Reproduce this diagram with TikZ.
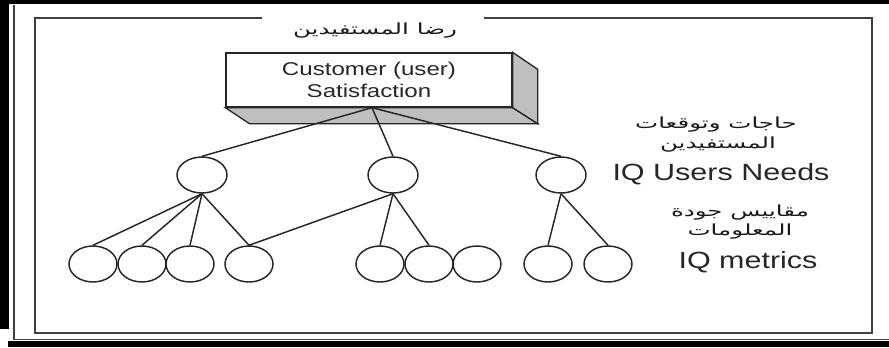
\documentclass[tikz,border=0pt]{standalone}
\usepackage{fontspec}
\setmainfont[FakeStretch=1.3]{Liberation Sans}
\newfontfamily\arabicfont[Script=Arabic,FakeStretch=1.6]{DejaVu Sans}
\TeXXeTstate=1
\usetikzlibrary{shapes.geometric,calc}
\begin{document}
\begin{tikzpicture}[x=0.75pt,y=-0.75pt,
  ln/.style={draw=black!85,line width=1.1pt},
  frameline/.style={draw=black!75,line width=1.3pt},
  topcirc/.style={ellipse,draw=black!85,line width=1.1pt,fill=white,minimum width=37.5pt,minimum height=27pt,inner sep=0pt},
  leafcirc/.style={ellipse,draw=black!85,line width=1.1pt,fill=white,minimum width=36pt,minimum height=27pt,inner sep=0pt},
  entext/.style={font=\fontsize{17.6pt}{20pt}\selectfont,text=black!85,inner sep=0pt},
  artext/.style={font=\arabicfont\fontsize{11.5pt}{13pt}\selectfont,text=black!90,inner sep=0pt},
  face/.style={draw=black!85,line width=1pt,fill=black!25}
]
\useasboundingbox (0,0) rectangle (889,347);
% outer frame
\fill[black] (0,0) rectangle (889,4);
\fill[black] (0,0) rectangle (9,329);
\fill[black] (8,341) rectangle (889,347);
\draw[frameline] (14,4.5) -- (14,339.5) -- (889,339.5);
% inner frame with title gap
\draw[frameline] (262,18) -- (35,18) -- (35,333) -- (872,333) -- (872,18) -- (484,18);
\node[artext] (title) at (375,31) {\beginR رضا المستفيدين\endR};
% 3D box
\node[draw=black!85,line width=1pt,fill=white,minimum width=214.5pt,minimum height=40.5pt,inner sep=0pt,
  align=center,font=\fontsize{13.9pt}{17pt}\selectfont,text=black!85] (box) at (369,80)
  {Customer (user)\\[-1pt]Satisfaction};
\draw[face] (box.south west) -- (box.south east) -- ($(box.south east)+(25,16)$) -- ($(box.south west)+(24,16)$) -- cycle;
\draw[face] (box.north east) -- ($(box.north east)+(25,17)$) -- ($(box.south east)+(25,16)$) -- (box.south east) -- cycle;
\coordinate (apex) at ($(box.south)+(3,0)$);
% level 1
\node[topcirc] (p1) at (202,175) {};
\node[topcirc] (p2) at (393,175) {};
\node[topcirc] (p3) at (561,175) {};
% level 2
\node[leafcirc] (c1) at (93,264) {};
\node[leafcirc] (c2) at (142,264) {};
\node[leafcirc] (c3) at (190,264) {};
\node[leafcirc] (c4) at (249,264) {};
\node[leafcirc] (c5) at (380,264) {};
\node[leafcirc] (c6) at (429,264) {};
\node[leafcirc] (c7) at (477,264) {};
\node[leafcirc] (c8) at (548,264) {};
\node[leafcirc] (c9) at (608,264) {};
% connectors
\draw[ln] (apex) -- (p1.north);
\draw[ln] (apex) -- (p2.north);
\draw[ln] (apex) -- (p3.north);
\draw[ln] (p1.south) -- (c1.north);
\draw[ln] (p1.south) -- (c2.north);
\draw[ln] (p1.south) -- (c3.north);
\draw[ln] (p1.south) -- (c4.north);
\draw[ln] (p2.south) -- (c4.north);
\draw[ln] (p2.south) -- (c5.north);
\draw[ln] (p2.south) -- (c6.north);
\draw[ln] (p3.south) -- (c8.north);
\draw[ln] (p3.south) -- (c9.north);
% right-hand labels
\node[artext] (needsar1) at (716,125) {\beginR حاجات وتوقعات\endR};
\node[artext] (needsar2) at (718,145) {\beginR المستفيدين\endR};
\node[entext] (needs) at (721,174) {IQ Users Needs};
\node[artext] (metar1) at (740,213) {\beginR مقاييس جودة\endR};
\node[artext] (metar2) at (740,232) {\beginR المعلومات\endR};
\node[entext] (metrics) at (748,262) {IQ metrics};
\end{tikzpicture}
\end{document}
